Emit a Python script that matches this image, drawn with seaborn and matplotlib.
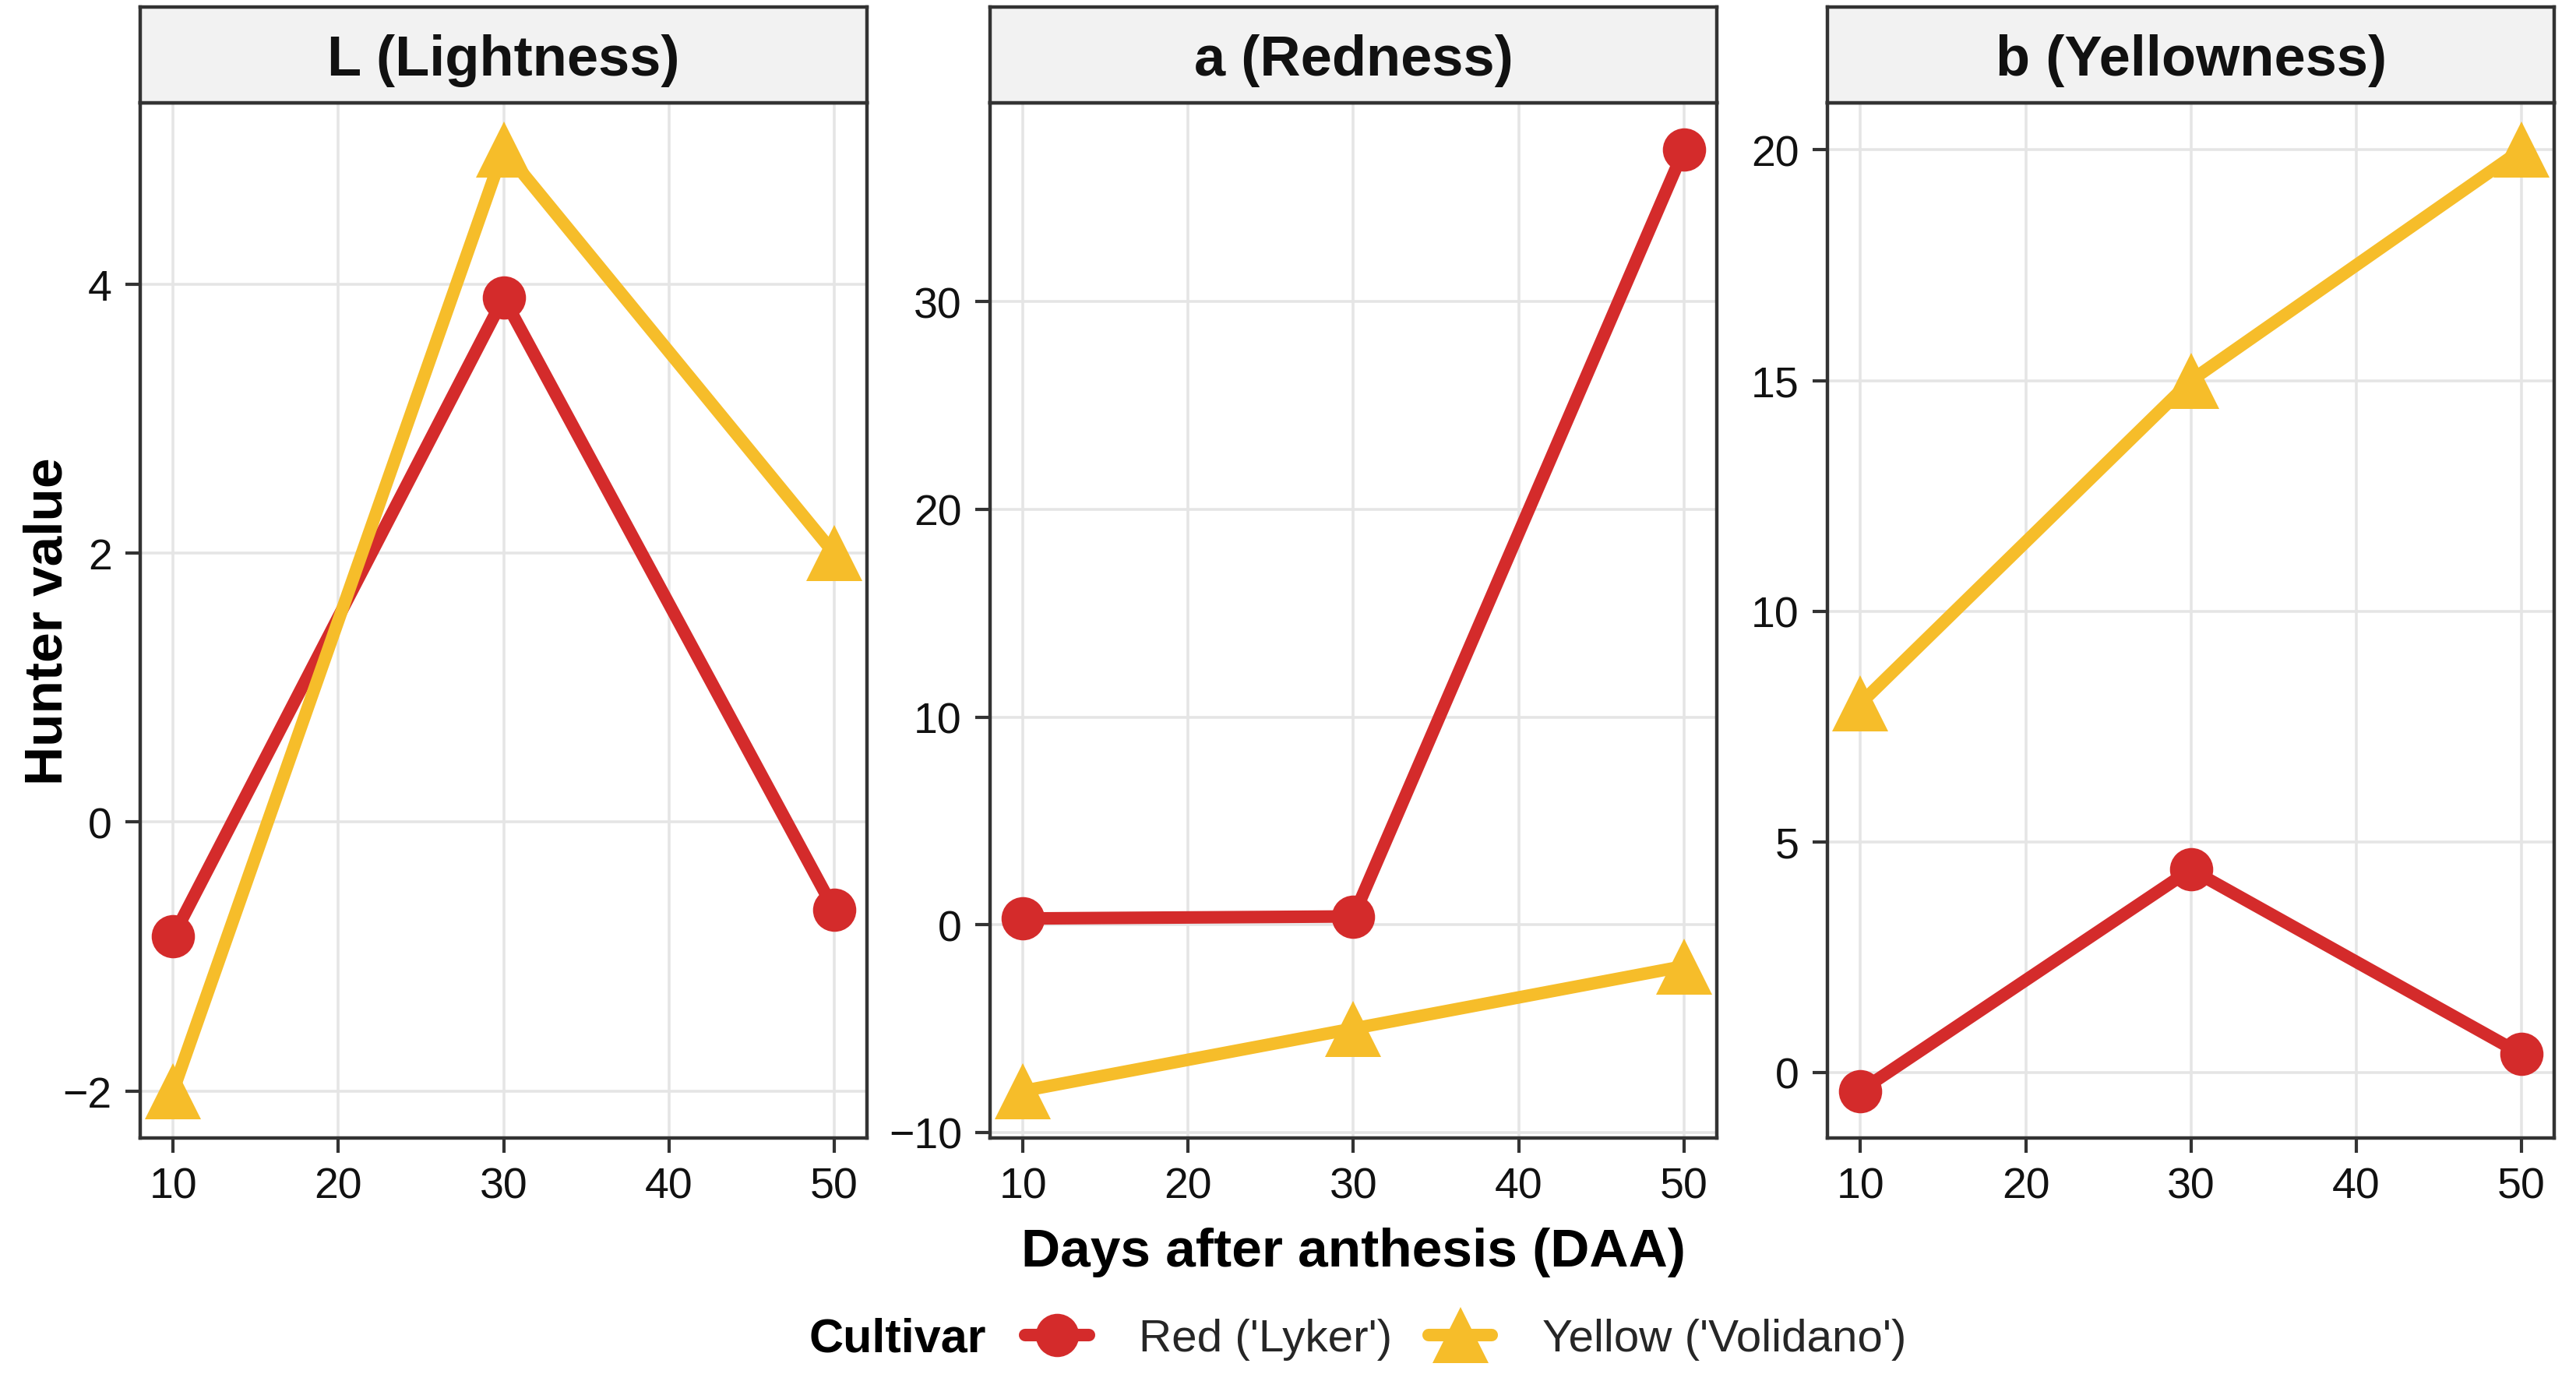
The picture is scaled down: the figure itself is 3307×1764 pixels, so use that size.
import numpy as np
import pandas as pd
import matplotlib
matplotlib.use("Agg")
import matplotlib.pyplot as plt
from matplotlib.lines import Line2D
import seaborn as sns

# ---- data ----
days = [10, 30, 50]
cultivars = ["Red ('Lyker')", "Yellow ('Volidano')"]
panels = ["L (Lightness)", "a (Redness)", "b (Yellowness)"]
L_red = [-0.85, 3.9, -0.65]
L_yellow = [-2.0, 5.0, 2.0]
a_red = [0.3, 0.4, 37.3]
a_yellow = [-8.0, -5.0, -2.0]
b_red = [-0.4, 4.4, 0.4]
b_yellow = [8.0, 15.0, 20.0]
yticks_L = [-2, 0, 2, 4]
yticks_a = [-10, 0, 10, 20, 30]
yticks_b = [0, 5, 10, 15, 20]
xticks = [10, 20, 30, 40, 50]

rows = []
for pname, red, yel in zip(panels, [L_red, a_red, b_red], [L_yellow, a_yellow, b_yellow]):
    for d, v in zip(days, red):
        rows.append((pname, cultivars[0], d, v))
    for d, v in zip(days, yel):
        rows.append((pname, cultivars[1], d, v))
df = pd.DataFrame(rows, columns=["Parameter", "Cultivar", "DAA", "Value"])

RED = "#D42B2B"
YEL = "#F6BD2A"
palette = {cultivars[0]: RED, cultivars[1]: YEL}
markers = {cultivars[0]: "o", cultivars[1]: "^"}

sns.set_theme(style="white")
plt.rcParams["font.family"] = ["Liberation Sans", "DejaVu Sans"]

fig = plt.figure(figsize=(16.535, 8.825), dpi=200)

lefts = [0.0544, 0.3843, 0.7094]
width = 0.2822
bottom = 0.1717
top = 0.9246
strip_top = 0.9943
yticks_all = [yticks_L, yticks_a, yticks_b]

BORDER = "#333333"
for i, pname in enumerate(panels):
    ax = fig.add_axes([lefts[i], bottom, width, top - bottom])
    sub = df[df["Parameter"] == pname]
    sns.lineplot(data=sub, x="DAA", y="Value", hue="Cultivar", style="Cultivar",
                 palette=palette, markers=markers, dashes=False,
                 hue_order=cultivars, style_order=cultivars,
                 linewidth=5.8, markersize=20, markeredgewidth=0,
                 legend=False, ax=ax, zorder=3)
    for ln in ax.get_lines():
        if ln.get_marker() == "^":
            ln.set_markersize(26)
    vals = sub["Value"].values
    lo, hi = vals.min(), vals.max()
    pad = (hi - lo) * 0.05
    ax.set_ylim(lo - pad, hi + pad)
    ax.set_xlim(8, 52)
    ax.set_xticks(xticks)
    ax.set_yticks(yticks_all[i])
    ax.grid(True, color="#E5E5E5", linewidth=1.3, zorder=0)
    ax.set_axisbelow(True)
    for s in ax.spines.values():
        s.set_color(BORDER)
        s.set_linewidth(1.6)
    ax.tick_params(axis="both", which="major", length=7, width=1.5, color=BORDER,
                   labelsize=20, labelcolor="#111111", pad=6,
                   left=True, bottom=True)
    ax.set_xlabel("")
    ax.set_ylabel("")
    sax = fig.add_axes([lefts[i], top, width, strip_top - top])
    sax.set_facecolor("#F2F2F2")
    sax.set_xticks([]); sax.set_yticks([])
    for s in sax.spines.values():
        s.set_color(BORDER)
        s.set_linewidth(1.6)
    sax.text(0.5, 0.45, pname, ha="center", va="center", fontsize=26,
             fontweight="bold", color="#111111", transform=sax.transAxes)

fig.text(0.009, (bottom + top) / 2, "Hunter value", rotation=90, ha="left", va="center",
         fontsize=25, fontweight="bold", color="#000000")
fig.text(lefts[1] + width / 2, 1 - 1608 / 1765, "Days after anthesis (DAA)", ha="center",
         va="center", fontsize=25, fontweight="bold", color="#000000")

ly = 1 - 1720 / 1765
fig.text(0.314, ly, "Cultivar", ha="left", va="center", fontsize=22,
         fontweight="bold", color="#000000")
handles = [
    Line2D([], [], color=RED, linewidth=5.8, marker="o", markersize=20, markeredgewidth=0),
    Line2D([], [], color=YEL, linewidth=5.8, marker="^", markersize=26, markeredgewidth=0),
]
fig.legend(handles, cultivars, loc="center left", bbox_to_anchor=(0.398, ly),
           ncol=2, frameon=False, fontsize=21, handlelength=1.4,
           handletextpad=1.1, columnspacing=0.8, borderaxespad=0, borderpad=0)

fig.savefig("out.png", dpi=200, facecolor="white")
